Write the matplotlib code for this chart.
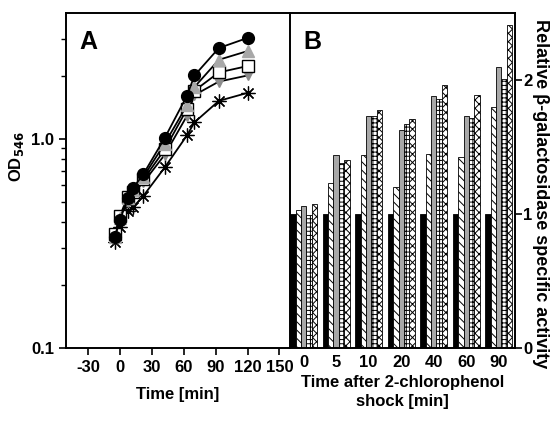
import matplotlib
matplotlib.use("Agg")
import matplotlib.pyplot as plt
import numpy as np
from matplotlib.ticker import FixedLocator, NullFormatter

plt.rcParams["font.family"] = ["Liberation Sans", "DejaVu Sans"]
plt.rcParams["font.weight"] = "bold"
plt.rcParams["axes.labelweight"] = "bold"
plt.rcParams["axes.unicode_minus"] = False
plt.rcParams["hatch.linewidth"] = 0.7

# panel A: growth curves (OD546)
time_min = [-5, 0, 7, 12, 22, 42, 63, 70, 93, 120]
od_circle = [0.34, 0.41, 0.52, 0.58, 0.68, 1.01, 1.61, 2.01, 2.72, 3.04]
od_tri_up = [0.34, 0.42, 0.52, 0.57, 0.66, 0.95, 1.45, 1.77, 2.39, 2.63]
od_square = [0.35, 0.43, 0.53, 0.56, 0.64, 0.89, 1.39, 1.70, 2.08, 2.23]
od_tri_down = [0.34, 0.41, 0.50, 0.55, 0.62, 0.84, 1.29, 1.62, 1.88, 2.01]
od_star = [0.32, 0.38, 0.45, 0.47, 0.535, 0.73, 1.04, 1.20, 1.52, 1.66]
time_ticks = [-30, 0, 30, 60, 90, 120, 150]

# panel B: relative beta-galactosidase activity
shock_labels = ["0", "5", "10", "20", "40", "60", "90"]
act_black = [1.0, 1.0, 1.0, 1.0, 1.0, 1.0, 1.0]
act_diag = [1.03, 1.23, 1.44, 1.20, 1.45, 1.425, 1.80]
act_gray = [1.056, 1.44, 1.73, 1.63, 1.88, 1.73, 2.10]
act_grid = [0.99, 1.38, 1.73, 1.67, 1.86, 1.715, 2.005]
act_cross = [1.076, 1.40, 1.775, 1.71, 1.96, 1.89, 2.41]

figure = plt.figure(figsize=(5.6, 4.22), dpi=100)
ax_a = figure.add_axes([66 / 560, 74 / 422, 224 / 560, 335 / 422])
ax_b = figure.add_axes([290 / 560, 74 / 422, 225 / 560, 335 / 422])

# --- panel A
ax_a.plot(time_min, od_star, color="black", lw=1.3, marker=(8, 2, 0), ms=10, mew=0.9, zorder=2)
ax_a.plot(time_min, od_tri_down, color="black", lw=1.3, marker="v", ms=7.5,
          mfc="#8c8c8c", mec="#8c8c8c", zorder=3)
ax_a.plot(time_min, od_square, color="black", lw=1.3, marker="s", ms=8.5,
          mfc="white", mec="black", mew=1.0, zorder=4)
ax_a.plot(time_min, od_tri_up, color="black", lw=1.3, marker="^", ms=8.5,
          mfc="#a8a8a8", mec="#a8a8a8", zorder=5)
ax_a.plot(time_min, od_circle, color="black", lw=1.3, marker="o", ms=8.5,
          mfc="black", mec="black", zorder=6)

ax_a.set_yscale("log")
ax_a.set_ylim(0.1, 4.0)
ax_a.set_xlim(-51, 160)
ax_a.yaxis.set_major_locator(FixedLocator([0.1, 1.0]))
ax_a.set_yticklabels(["0.1", "1.0"])
ax_a.yaxis.set_minor_locator(FixedLocator([0.2, 0.3, 0.4, 0.5, 0.6, 0.7, 0.8, 0.9, 2, 3]))
ax_a.yaxis.set_minor_formatter(NullFormatter())
ax_a.set_xticks(time_ticks)
ax_a.tick_params(axis="both", which="major", direction="out", length=5, width=1.2,
                 labelsize=12)
ax_a.tick_params(axis="y", which="minor", direction="out", length=3.5, width=1.0)
ax_a.spines["right"].set_visible(False)
for side in ("left", "bottom", "top"):
    ax_a.spines[side].set_linewidth(1.4)
ax_a.set_xlabel("Time [min]", fontsize=12, labelpad=9)
ax_a.set_ylabel("OD$_\\mathbf{546}$", fontsize=12, labelpad=8)
ax_a.yaxis.set_label_coords(-0.18, 0.57)
ax_a.text(0.06, 0.95, "A", transform=ax_a.transAxes, fontsize=18, va="top", ha="left")

# --- panel B
x = np.arange(len(shock_labels))
width = 0.166
bar_kw = dict(width=width, edgecolor="black", linewidth=0.6)
ax_b.bar(x - 2 * width, act_black, color="black", **bar_kw)
ax_b.bar(x - width, act_diag, color="white", hatch="\\\\\\\\", **bar_kw)
ax_b.bar(x, act_gray, color="#a8a8a8", **bar_kw)
ax_b.bar(x + width, act_grid, color="white", hatch="++++", **bar_kw)
ax_b.bar(x + 2 * width, act_cross, color="white", hatch="xxxx", **bar_kw)

ax_b.set_xlim(-0.42, 6.5)
ax_b.set_ylim(0, 2.5)
ax_b.set_xticks(x)
ax_b.set_xticklabels(shock_labels)
ax_b.set_yticks([0, 1, 2])
ax_b.yaxis.tick_right()
ax_b.yaxis.set_label_position("right")
ax_b.tick_params(axis="x", length=0, labelsize=12, pad=5)
ax_b.tick_params(axis="y", direction="out", length=5, width=1.2, labelsize=12, pad=1)
for side in ("left", "right", "bottom", "top"):
    ax_b.spines[side].set_linewidth(1.4)
ax_b.set_xlabel("Time after 2-chlorophenol\nshock [min]", fontsize=12, labelpad=4,
                linespacing=1.3)
ax_b.set_ylabel("Relative \u03b2-galactosidase specific activity", fontsize=13,
                rotation=270, labelpad=14)
ax_b.yaxis.set_label_coords(1.15, 0.46)
ax_b.text(0.06, 0.95, "B", transform=ax_b.transAxes, fontsize=18, va="top", ha="left")

figure.savefig("out.png", dpi=100)
plt.close(figure)
